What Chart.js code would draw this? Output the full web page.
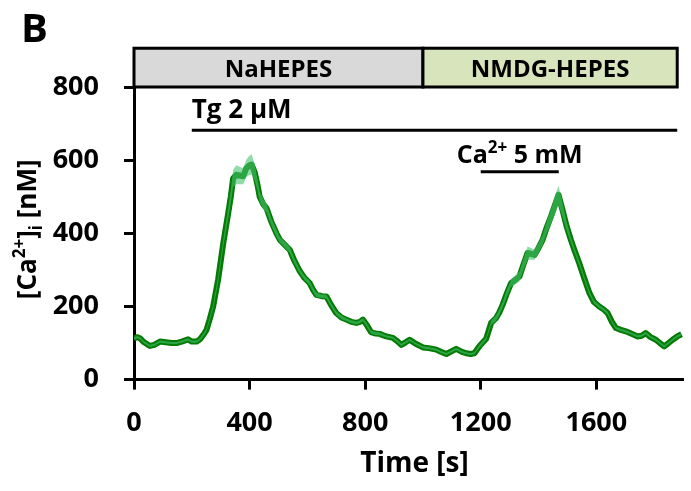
<!DOCTYPE html>
<html>
<head>
<meta charset="utf-8">
<script src="https://cdn.jsdelivr.net/npm/chart.js@4.4.1/dist/chart.umd.min.js"></script>
<style>
  html, body { margin: 0; padding: 0; background: #ffffff; }
  #wrap { width: 691px; height: 491px; }
</style>
</head>
<body>
<div id="wrap"><canvas id="c" width="691" height="491"></canvas></div>
<script>
// Mean cytosolic Ca2+ trace (nM) over time (s), with SEM
const timeSec = [
  0, 10, 21, 35, 55, 70, 90, 110, 130, 147,
  165, 187, 200, 217, 228, 240, 251, 262, 274, 291,
  309, 326, 335, 343, 354, 366, 378, 389, 398, 407,
  418, 428, 435, 447, 459, 475, 493, 505, 520, 539,
  555, 574, 590, 608, 620, 631, 650, 666, 683, 700,
  718, 735, 752, 770, 782, 792, 805, 820, 835, 850,
  873, 896, 913, 925, 940, 954, 975, 1000, 1020, 1046,
  1062, 1081, 1100, 1115, 1135, 1150, 1165, 1178, 1196, 1210,
  1219, 1236, 1253, 1265, 1276, 1290, 1305, 1320, 1334, 1348,
  1362, 1374, 1386, 1400, 1414, 1428, 1443, 1456, 1469, 1483,
  1497, 1512, 1526, 1541, 1558, 1576, 1592, 1610, 1625, 1639,
  1654, 1668, 1685, 1702, 1720, 1743, 1757, 1771, 1788, 1806,
  1820, 1835, 1850, 1864, 1880, 1895
];
const meanCa = [
  112, 116, 113, 102, 92, 95, 104, 102, 100, 100,
  104, 110, 104, 104, 110, 122, 136, 165, 200, 273,
  373, 455, 500, 550, 560, 558, 556, 578, 585, 588,
  566, 530, 500, 480, 468, 432, 400, 382, 370, 355,
  325, 296, 278, 264, 245, 232, 228, 227, 203, 182,
  170, 164, 158, 155, 158, 164, 150, 130, 126, 125,
  118, 114, 104, 95, 102, 109, 98, 88, 86, 82,
  76, 70, 78, 84, 76, 72, 70, 72, 92, 104,
  112, 155, 168, 185, 205, 235, 264, 273, 282, 315,
  346, 344, 341, 360, 382, 415, 446, 475, 505, 464,
  420, 382, 350, 318, 278, 237, 212, 200, 192, 182,
  158, 141, 136, 132, 126, 118, 120, 127, 116, 109,
  100, 91, 100, 109, 118, 124
];
const semCa = [
  3, 3, 3, 3, 3, 3, 3, 3, 3, 3,
  3, 3, 3, 3, 3, 4, 4, 5, 6, 8,
  10, 14, 18, 24, 26, 24, 22, 24, 26, 28,
  22, 16, 14, 14, 12, 10, 10, 8, 8, 8,
  7, 6, 6, 6, 6, 6, 5, 5, 5, 5,
  5, 4, 4, 4, 4, 4, 4, 4, 4, 4,
  3, 3, 3, 3, 3, 3, 3, 3, 3, 3,
  3, 3, 3, 3, 3, 3, 3, 3, 4, 4,
  4, 6, 8, 8, 8, 10, 10, 12, 14, 16,
  18, 16, 14, 14, 14, 16, 20, 24, 26, 20,
  12, 8, 6, 6, 5, 5, 4, 4, 4, 4,
  3, 3, 3, 3, 3, 3, 3, 3, 3, 3,
  3, 3, 3, 3, 3, 3
];

const xTickValues = [0, 400, 800, 1200, 1600];
const yTickValues = [0, 200, 400, 600, 800];

// Bath solution bars above the plot
const solutionNames = ['NaHEPES', 'NMDG-HEPES'];
const solutionStart = [0, 1000];
const solutionEnd = [1000, 1880];
const solutionFill = ['#d9d9d9', '#d8e4bc'];
const solutionBarTop = 906;   // in nM units, bar spans 800..906

// Treatment application bars
const treatmentStart = [200, 1200];
const treatmentEnd = [1880, 1470];
const treatmentLevel = [682, 568];

const FAMILY = '"Open Sans", Lato, sans-serif';
const font = (size) => ({ family: FAMILY, size: size, weight: 'bold' });

function drawRich(ctx, parts, x, y, align) {
  let total = 0;
  parts.forEach(p => {
    ctx.font = 'bold ' + p.size + 'px ' + FAMILY;
    p.w = ctx.measureText(p.t).width;
    total += p.w;
  });
  let cx = align === 'center' ? x - total / 2 : (align === 'right' ? x - total : x);
  ctx.textAlign = 'left';
  ctx.textBaseline = 'alphabetic';
  parts.forEach(p => {
    ctx.font = 'bold ' + p.size + 'px ' + FAMILY;
    ctx.fillText(p.t, cx, y + (p.dy || 0));
    cx += p.w;
  });
}

const decorations = {
  id: 'decorations',
  afterDatasetsDraw(chart) {
    const ctx = chart.ctx;
    const xs = chart.scales.x, ys = chart.scales.y;
    const area = chart.chartArea;
    ctx.save();
    ctx.fillStyle = '#000';

    // solution bars
    const yb = ys.getPixelForValue(800);
    const yt = ys.getPixelForValue(solutionBarTop);
    for (let i = 0; i < solutionNames.length; i++) {
      const x0 = xs.getPixelForValue(solutionStart[i]);
      const x1 = xs.getPixelForValue(solutionEnd[i]);
      ctx.fillStyle = solutionFill[i];
      ctx.fillRect(x0, yt, x1 - x0, yb - yt);
      ctx.lineWidth = 3;
      ctx.strokeStyle = '#000';
      ctx.strokeRect(x0, yt, x1 - x0, yb - yt);
      ctx.fillStyle = '#000';
      drawRich(ctx, [{ t: solutionNames[i], size: 24 }], (x0 + x1) / 2, (yt + yb) / 2 + 9, 'center');
    }

    // treatment bars
    ctx.lineWidth = 3;
    ctx.strokeStyle = '#000';
    for (let i = 0; i < treatmentStart.length; i++) {
      const x0 = xs.getPixelForValue(treatmentStart[i]);
      const x1 = xs.getPixelForValue(treatmentEnd[i]);
      const y = ys.getPixelForValue(treatmentLevel[i]);
      ctx.beginPath();
      ctx.moveTo(x0, y);
      ctx.lineTo(x1, y);
      ctx.stroke();
      if (i === 0) {
        drawRich(ctx, [{ t: 'Tg 2 \u00b5M', size: 26 }], x0, y - 12, 'left');
      } else {
        drawRich(ctx, [
          { t: 'Ca', size: 25 },
          { t: '2+', size: 17, dy: -10 },
          { t: ' 5 mM', size: 25 }
        ], (x0 + x1) / 2, y - 9, 'center');
      }
    }

    // panel letter
    drawRich(ctx, [{ t: 'B', size: 40 }], 21, 42, 'left');

    // x-axis title
    drawRich(ctx, [{ t: 'Time [s]', size: 28 }], (area.left + area.right) / 2 + 6, 472, 'center');

    // y-axis title, rotated
    ctx.translate(36, (area.top + area.bottom) / 2 - 4);
    ctx.rotate(-Math.PI / 2);
    drawRich(ctx, [
      { t: '[Ca', size: 26 },
      { t: '2+', size: 17, dy: -11 },
      { t: ']', size: 26 },
      { t: 'i', size: 17, dy: 6 },
      { t: ' [nM]', size: 26 }
    ], 0, 0, 'center');
    ctx.restore();
  }
};

const meanPts = timeSec.map((t, i) => ({ x: t, y: meanCa[i] }));
const upperPts = timeSec.map((t, i) => ({ x: t, y: meanCa[i] + semCa[i] }));
const lowerPts = timeSec.map((t, i) => ({ x: t, y: meanCa[i] - semCa[i] }));

new Chart(document.getElementById('c'), {
  type: 'line',
  data: {
    datasets: [
      { label: 'upper', data: upperPts, borderWidth: 0, pointRadius: 0,
        backgroundColor: 'rgba(70,195,110,0.6)', fill: '+1', tension: 0 },
      { label: 'lower', data: lowerPts, borderWidth: 0, pointRadius: 0,
        backgroundColor: 'rgba(70,195,110,0.6)', fill: false, tension: 0 },
      { label: 'mean', data: meanPts, borderColor: '#057a05', borderWidth: 6,
        pointRadius: 0, fill: false, tension: 0, borderJoinStyle: 'round' }
    ]
  },
  options: {
    responsive: false,
    devicePixelRatio: 1,
    animation: false,
    layout: { padding: { left: 50, top: 87, right: 8, bottom: 33 } },
    plugins: { legend: { display: false }, tooltip: { enabled: false } },
    scales: {
      x: {
        type: 'linear', min: 0, max: 1900,
        afterBuildTicks: s => { s.ticks = xTickValues.map(v => ({ value: v })); },
        grid: { display: true, drawOnChartArea: false, drawTicks: true, tickLength: 10, tickWidth: 3, tickColor: '#000' },
        border: { display: true, width: 3, color: '#000' },
        ticks: { font: font(27), color: '#000', padding: 18, maxRotation: 0, autoSkip: false, callback: v => String(v) }
      },
      y: {
        type: 'linear', min: 0, max: 800,
        afterBuildTicks: s => { s.ticks = yTickValues.map(v => ({ value: v })); },
        afterFit: s => { s.width = 84; },
        grid: { display: true, drawOnChartArea: false, drawTicks: true, tickLength: 10, tickWidth: 3, tickColor: '#000' },
        border: { display: true, width: 3, color: '#000' },
        ticks: { font: font(27), color: '#000', padding: 25, autoSkip: false, callback: v => String(v) }
      }
    }
  },
  plugins: [decorations]
});
</script>
</body>
</html>
